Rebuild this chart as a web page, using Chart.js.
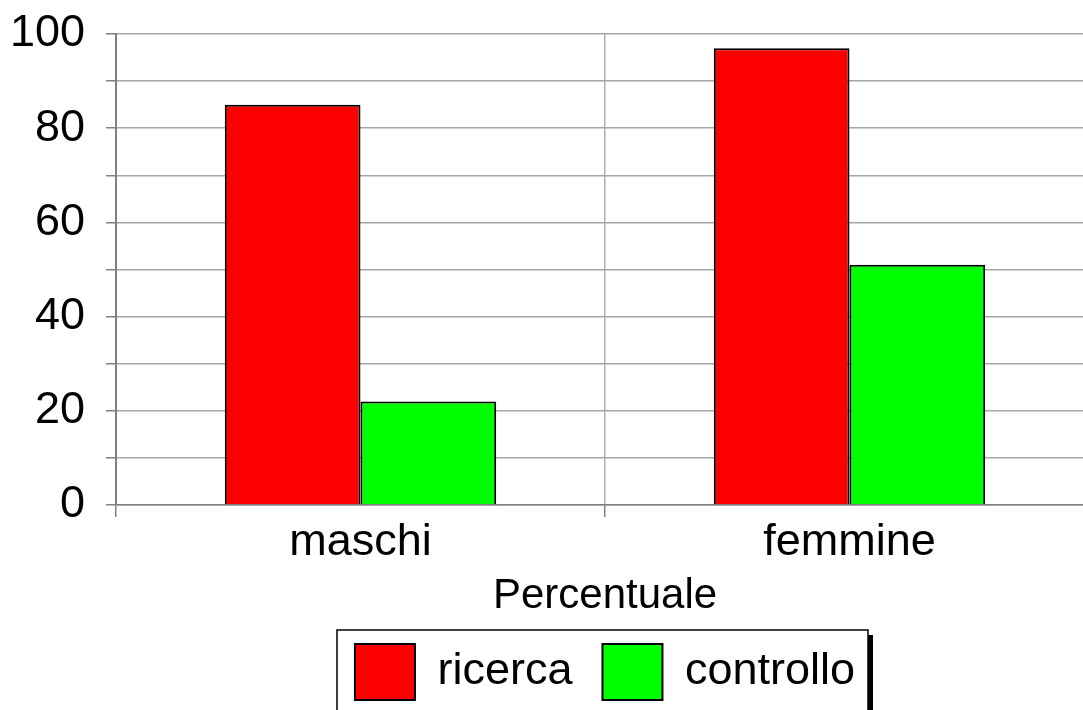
<!DOCTYPE html>
<html>
<head>
<meta charset="utf-8">
<script src="https://cdn.jsdelivr.net/npm/chart.js@4"></script>
<style>
  html, body { margin: 0; padding: 0; background: #fff; overflow: hidden; }
  #wrap { width: 1100px; height: 710px; }
</style>
</head>
<body>
<div id="wrap"><canvas id="c" width="1100" height="710"></canvas></div>
<script>
const categories = ['maschi', 'femmine'];
const seriesNames = ['ricerca', 'controllo'];
const ricercaValues = [85, 97];
const controlloValues = [22, 51];
const yTickLabels = [0, 20, 40, 60, 80, 100];
const axisTitle = 'Percentuale';

const FONT = "'Liberation Sans', Arial, Helvetica, sans-serif";

const legendFrame = {
  id: 'legendFrame',
  afterDraw(chart) {
    const lg = chart.legend;
    if (!lg) return;
    const ctx = chart.ctx;
    const cx = (lg.left + lg.right) / 2;
    const left = cx - 268, right = cx + 263;
    const top = lg.top + 16, bottom = top + 92;
    ctx.save();
    ctx.strokeStyle = '#000';
    ctx.lineWidth = 1.5;
    ctx.strokeRect(left, top, right - left, bottom - top);
    ctx.fillStyle = '#000';
    ctx.fillRect(right, top + 5, 5, bottom - top);
    ctx.restore();
  }
};

new Chart(document.getElementById('c'), {
  type: 'bar',
  data: {
    labels: categories,
    datasets: [
      { label: seriesNames[0], data: ricercaValues, backgroundColor: '#ff0000', borderColor: '#000', borderWidth: 2 },
      { label: seriesNames[1], data: controlloValues, backgroundColor: '#00ff00', borderColor: '#000', borderWidth: 2 }
    ]
  },
  options: {
    responsive: false,
    animation: false,
    devicePixelRatio: 1,
    layout: { padding: { top: 34, left: 0, right: 6, bottom: 0 } },
    datasets: { bar: { barPercentage: 1, categoryPercentage: 0.555 } },
    plugins: {
      tooltip: { enabled: false },
      legend: {
        position: 'bottom',
        fullSize: false,
        labels: {
          color: '#000',
          font: { family: FONT, size: 45 },
          boxWidth: 60,
          boxHeight: 56,
          padding: 30
        }
      }
    },
    scales: {
      x: {
        afterFit(s) { s.height = 109; s.paddingLeft = 0; s.paddingRight = 0; },
        grid: { color: '#b0b0b0', lineWidth: 1.5, tickLength: 12, tickColor: '#808080', offset: true },
        border: { color: '#808080', width: 1.5 },
        ticks: { color: '#000', font: { family: FONT, size: 45 }, padding: -1 },
        title: { display: true, text: axisTitle, color: '#000', font: { family: FONT, size: 42 }, padding: { top: 0, bottom: -8 } }
      },
      y: {
        min: 0,
        max: 100,
        afterFit(s) { s.width = 116; s.paddingTop = 0; s.paddingBottom = 0; },
        grid: { color: '#a6a6a6', lineWidth: 1.5, tickLength: 10, tickColor: '#808080' },
        border: { color: '#808080', width: 2 },
        ticks: {
          stepSize: 10,
          autoSkip: false,
          color: '#000',
          font: { family: FONT, size: 45 },
          padding: 21,
          callback: (v) => (yTickLabels.includes(v) ? String(v) : '')
        }
      }
    }
  },
  plugins: [legendFrame]
});
</script>
</body>
</html>
